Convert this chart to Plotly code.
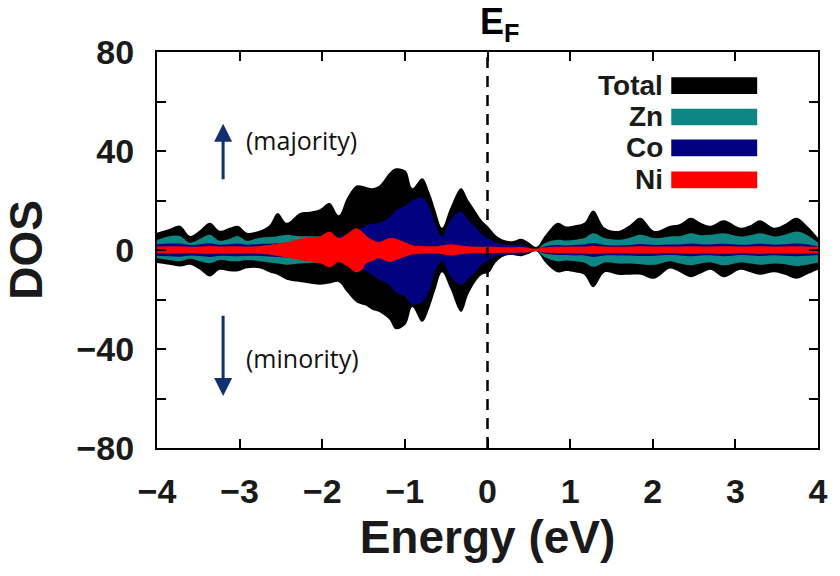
import plotly.graph_objects as go

# Energy grid (eV, relative to E_F)
energy = [-4.0, -3.85, -3.72, -3.6, -3.48, -3.36, -3.24, -3.12, -3.02, -2.91,
          -2.76, -2.64, -2.54, -2.43, -2.27, -2.15, -2.03, -1.91, -1.8, -1.7,
          -1.59, -1.52, -1.47, -1.4, -1.31, -1.19, -1.11, -0.99, -0.91, -0.79,
          -0.7, -0.63, -0.55, -0.45, -0.32, -0.23, -0.15, -0.07, 0.02, 0.1,
          0.2, 0.3, 0.41, 0.5, 0.59, 0.7, 0.85, 0.95, 1.06, 1.17,
          1.28, 1.42, 1.58, 1.72, 1.85, 2.02, 2.21, 2.33, 2.46, 2.58,
          2.7, 2.86, 3.06, 3.18, 3.3, 3.47, 3.6, 3.74, 3.86, 4.0]

# Majority (up) and minority (down, magnitude) DOS per component
total_up = [7, 8.5, 9.8, 5.7, 8, 11, 7.8, 9, 9.8, 7,
            7.8, 10, 15, 11, 15, 15.5, 16.5, 19, 14, 21,
            26, 26, 25.5, 25, 26, 31, 33, 32, 25, 29,
            23, 16, 9, 17, 25, 20, 16, 12, 9, 6,
            4, 3.5, 4.5, 3, 1.2, 6, 11, 9.5, 10, 11,
            16, 9, 7.7, 10, 13, 7.7, 9.8, 10.5, 13, 11,
            9.8, 12, 9, 10, 12, 9, 10.5, 13, 10, 5]
total_dn = [5.3, 6, 6.7, 6, 8, 10.7, 8, 8.6, 8.6, 7.4,
            7.4, 9, 10, 12, 12.9, 13.5, 14, 13.5, 13, 17,
            21, 22, 22.5, 24, 25, 28, 32, 30, 23, 29,
            23, 16, 9, 15.6, 25, 17.7, 13, 10, 9, 5,
            2.5, 2, 2.5, 1.5, 0.5, 5, 9, 8.5, 9, 10,
            15, 9, 10, 10, 10, 11.6, 7.5, 9, 11, 9.5,
            8, 11, 8, 9, 10, 9, 10, 11.6, 10, 8]

zn_up = [4, 5.6, 5.6, 2.9, 4.5, 6.2, 3.7, 4.5, 5.6, 3.7,
         5, 5.3, 5.6, 6.2, 5.6, 5.6, 5.5, 5, 4.8, 4.5,
         4, 3.8, 3.6, 3.5, 3.3, 3.2, 3, 3, 3, 3,
         2.8, 2.6, 2.4, 2.2, 2, 1.8, 1.6, 1.4, 1.2, 1,
         0.9, 0.8, 0.7, 0.4, 0.2, 2.8, 4.1, 3.8, 4.1, 4.8,
         6.8, 4.8, 4.1, 5, 6.2, 4.8, 5.5, 5.6, 6.8, 6,
         6.2, 6.8, 5.5, 6, 6.8, 5.5, 6.2, 7.5, 6.2, 3]
zn_dn = [3.3, 4, 4.5, 3.5, 4.5, 5.3, 4, 4.5, 4.5, 4,
         4.5, 5, 5.5, 6, 5.5, 5.3, 5, 4.5, 4.3, 4,
         3.8, 3.6, 3.5, 3.4, 3.3, 3.2, 3, 3, 3, 3,
         2.8, 2.6, 2.4, 2.2, 2, 1.8, 1.6, 1.4, 1.2, 1,
         0.9, 0.8, 0.7, 0.4, 0.2, 3, 4.5, 4.2, 4.5, 5,
         6.8, 5, 5.5, 5.5, 5.8, 6, 4.5, 5.5, 6.2, 5.5,
         5, 6.2, 5, 5.5, 6, 5.5, 5.8, 6.5, 6, 5]

co_up = [2.3, 2.6, 2.6, 2, 2.3, 2.7, 2.1, 2.3, 2.6, 2.1,
         2.4, 2.5, 2.7, 2.9, 3, 3.5, 4, 5, 5.5, 6.5,
         8, 9, 10, 10.5, 11, 13, 16, 18, 20, 21,
         17, 10, 5.5, 12, 15.5, 12, 9.5, 6.5, 4.5, 3,
         2.3, 2, 2, 1.2, 0.4, 1.5, 2, 1.8, 2, 2.2,
         2.8, 2, 1.8, 2, 2.4, 2, 2.2, 2.2, 2.6, 2.3,
         2.2, 2.5, 2.1, 2.2, 2.5, 2.1, 2.3, 2.6, 2.3, 1.5]
co_dn = [2.3, 2.5, 2.7, 2.2, 2.4, 2.8, 2.3, 2.4, 2.5, 2.3,
         2.4, 2.6, 2.8, 3, 3, 3.5, 4, 4.5, 5, 6,
         7.5, 8, 8.5, 10, 12, 14, 17, 19, 22, 21,
         16, 8, 4.5, 10.5, 14, 11.5, 9, 6, 4, 2.5,
         2, 1.8, 1.8, 1, 0.4, 1.5, 2, 2, 2.2, 2.2,
         2.8, 2.2, 2.2, 2.2, 2.4, 2.3, 2, 2.2, 2.5, 2.2,
         2.1, 2.5, 2, 2.2, 2.4, 2.1, 2.3, 2.5, 2.3, 2]

ni_up = [1.4, 1.5, 1.5, 1.3, 1.4, 1.6, 1.4, 1.5, 1.5, 1.4,
         1.6, 2, 2.6, 3, 4.5, 5.2, 5.5, 7.4, 4.8, 6.5,
         8.8, 7.5, 5.8, 4.2, 3.2, 4.8, 4.5, 3, 1.9, 1.6,
         1.5, 1.5, 1.8, 2.3, 1.8, 1.5, 1.4, 1.3, 1.3, 1.2,
         1.1, 1.1, 1.2, 0.8, 0.5, 1.1, 1.3, 1.3, 1.4, 1.4,
         1.6, 1.4, 1.3, 1.4, 1.5, 1.4, 1.4, 1.4, 1.5, 1.4,
         1.4, 1.5, 1.4, 1.4, 1.5, 1.4, 1.4, 1.5, 1.4, 1.3]
ni_dn = [1.3, 1.4, 1.4, 1.3, 1.4, 1.5, 1.4, 1.4, 1.4, 1.4,
         1.5, 1.8, 2.4, 3, 4, 4.8, 5.3, 7, 4.8, 6.5,
         9, 8, 5.5, 4.5, 3.3, 4.8, 4, 2.6, 1.8, 1.5,
         1.4, 1.4, 1.7, 2.2, 1.7, 1.4, 1.3, 1.3, 1.2, 1.2,
         1.1, 1.1, 1.1, 0.8, 0.5, 1.1, 1.3, 1.3, 1.3, 1.4,
         1.5, 1.4, 1.3, 1.4, 1.4, 1.4, 1.3, 1.4, 1.5, 1.4,
         1.4, 1.5, 1.3, 1.4, 1.5, 1.4, 1.4, 1.5, 1.4, 1.3]

series_names = ["Total", "Zn", "Co", "Ni"]
series_colors = ["#000000", "#0E8784", "#02017F", "#FF0000"]
series_up = [total_up, zn_up, co_up, ni_up]
series_dn = [total_dn, zn_dn, co_dn, ni_dn]

y_ticks = [80, 40, 0, -40, -80]
x_ticks = [-4, -3, -2, -1, 0, 1, 2, 3, 4]

FONT = "Liberation Sans, Arial, sans-serif"
TEXT_COLOR = "#1a1a1a"
ARROW_COLOR = "#13306E"


def tick_label(v):
    s = ("\u2212" + str(-v)) if v < 0 else str(v)
    return f"<b>{s}</b>"


fig = go.Figure()

# Filled spin-up / spin-down bands, total at the back and Ni on top
for name, color, up, dn in zip(series_names, series_colors, series_up, series_dn):
    fig.add_trace(go.Scatter(
        x=energy, y=up, mode="lines", line=dict(width=0, shape="spline", color=color),
        fill="tozeroy", fillcolor=color, name=name, showlegend=False, hoverinfo="skip"))
    fig.add_trace(go.Scatter(
        x=energy, y=[-v for v in dn], mode="lines", line=dict(width=0, shape="spline", color=color),
        fill="tozeroy", fillcolor=color, name=name, showlegend=False, hoverinfo="skip"))

# Fermi level
fig.add_shape(type="line", xref="x", yref="paper", x0=0, x1=0, y0=0, y1=1,
              line=dict(color="black", width=2.5, dash="11px,8px"), layer="above")

# Spin direction arrows and labels
fig.add_annotation(x=-3.2, y=51, ax=-3.2, ay=28, xref="x", yref="y", axref="x", ayref="y",
                   text="", showarrow=True, arrowhead=2, arrowsize=1.2, arrowwidth=3,
                   arrowcolor=ARROW_COLOR, standoff=0)
fig.add_annotation(x=-3.2, y=-59, ax=-3.2, ay=-26, xref="x", yref="y", axref="x", ayref="y",
                   text="", showarrow=True, arrowhead=2, arrowsize=1.2, arrowwidth=3,
                   arrowcolor=ARROW_COLOR, standoff=0)
fig.add_annotation(x=-2.95, y=44.5, xref="x", yref="y", text="(majority)", showarrow=False,
                   xanchor="left", yanchor="middle",
                   font=dict(family="Open Sans, sans-serif", size=25, color="#111"))
fig.add_annotation(x=-2.95, y=-43.5, xref="x", yref="y", text="(minority)", showarrow=False,
                   xanchor="left", yanchor="middle",
                   font=dict(family="Open Sans, sans-serif", size=25, color="#111"))

# E_F label above the frame
fig.add_annotation(x=0.14, y=1.07, xref="x", yref="paper", text="<b>E<sub>F</sub></b>",
                   showarrow=False, xanchor="center", yanchor="middle",
                   font=dict(family=FONT, size=36, color="black"))

# Legend: right-aligned names with colour bars
legend_y = [0.915, 0.836, 0.758, 0.677]
for name, color, ly in zip(series_names, series_colors, legend_y):
    fig.add_annotation(x=0.768, y=ly, xref="paper", yref="paper", text=f"<b>{name}</b>",
                       showarrow=False, xanchor="right", yanchor="middle",
                       font=dict(family=FONT, size=28, color=TEXT_COLOR))
    fig.add_shape(type="rect", xref="paper", yref="paper", x0=0.778, x1=0.908,
                  y0=ly - 0.021, y1=ly + 0.021, line=dict(width=0), fillcolor=color)

axis_common = dict(
    showline=True, linecolor="black", linewidth=2, mirror="allticks",
    ticks="inside", tickcolor="black", tickwidth=2, ticklen=9,
    showgrid=False, zeroline=False,
    tickfont=dict(family=FONT, size=34, color=TEXT_COLOR),
)

fig.update_xaxes(range=[-4, 4], tickvals=x_ticks,
                 ticktext=[tick_label(v) for v in x_ticks],
                 ticklabelstandoff=12,
                 title=dict(text="<b>Energy (eV)</b>", font=dict(family=FONT, size=46, color=TEXT_COLOR),
                            standoff=12),
                 **axis_common)
fig.update_yaxes(range=[-80, 80], tickvals=y_ticks,
                 ticktext=[tick_label(v) for v in y_ticks],
                 ticklabelstandoff=14,
                 minor=dict(dtick=20, tick0=0, ticks="inside", ticklen=9, tickwidth=2, tickcolor="black"),
                 title=dict(text="<b>DOS</b>", font=dict(family=FONT, size=46, color=TEXT_COLOR),
                            standoff=28),
                 **axis_common)

fig.update_layout(
    width=840, height=576,
    margin=dict(l=157, r=18, t=52, b=128),
    plot_bgcolor="white", paper_bgcolor="white",
    showlegend=False,
)

fig.write_html("out.html")
